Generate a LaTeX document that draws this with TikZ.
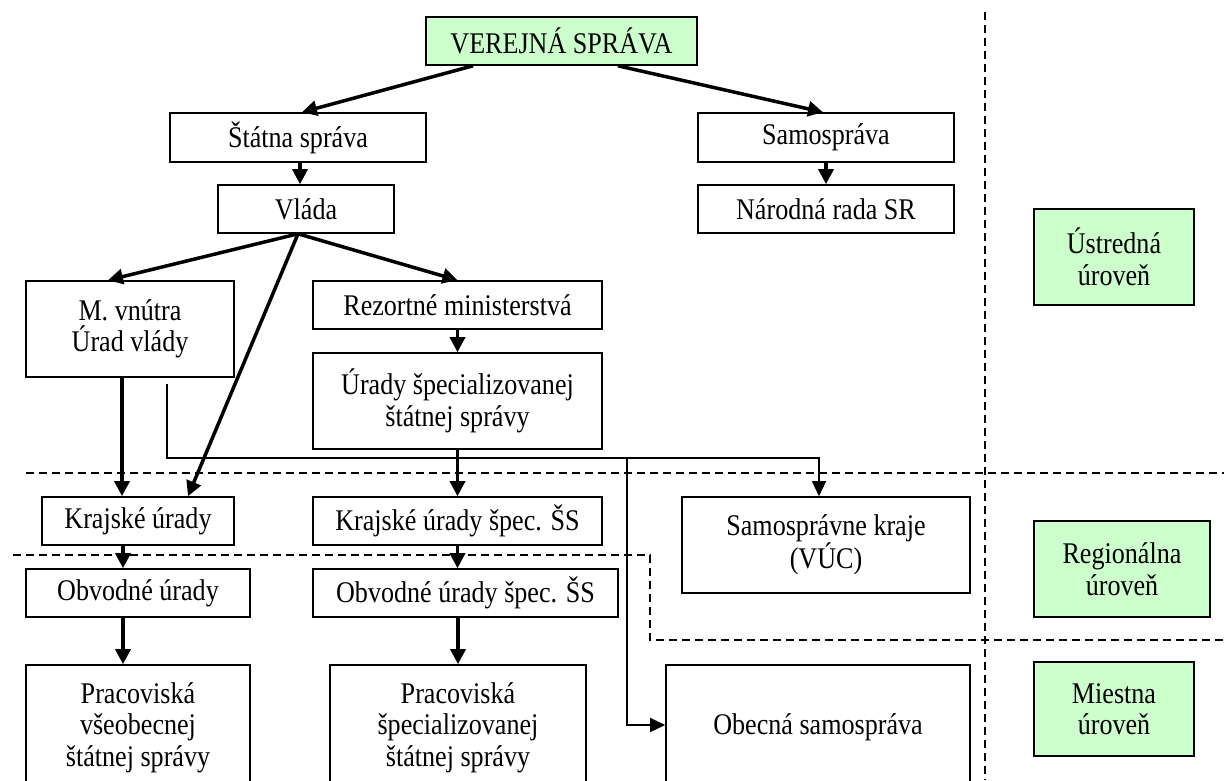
\documentclass[tikz,border=0pt]{standalone}
\usepackage{fontspec}
\setmainfont{Liberation Serif}
\newfontfamily\tallserif[FakeStretch=0.87]{Liberation Serif}
\usetikzlibrary{arrows.meta}
\definecolor{lvlgreen}{HTML}{CCFFCC}
\begin{document}
\begin{tikzpicture}[x=1pt,y=-1pt,
  box/.style={draw, line width=1.6pt, inner sep=0pt, align=center,
    font=\tallserif\fontsize{30}{31.5}\selectfont},
  lvlbox/.style={box, fill=lvlgreen},
  arr/.style={line width=3.5pt, -{Triangle[length=15pt,width=15pt]}},
  thinarr/.style={line width=1.3pt, -{Triangle[length=15pt,width=14pt]}},
  thinline/.style={line width=1.3pt},
  dashline/.style={line width=1.4pt, dash pattern=on 8pt off 5pt}
]
\fill[white] (0,0) rectangle (1224,780);
\useasboundingbox (0,0) rectangle (1224,780);
\clip (0,0) rectangle (1224,780);

% dashed level separators
\draw[dashline] (985,12) -- (985,780);
\draw[dashline] (26,473) -- (1224,473);
\draw[dashline] (13,555) -- (650,555) -- (650,640) -- (1224,640);

% nodes
\node[lvlbox, minimum width=271, minimum height=48] (ver) at (561.5,41) {VEREJNÁ SPRÁVA};
\node[box, minimum width=256, minimum height=49] (stat) at (298,137.5) {Štátna správa};
\node[box, minimum width=256, minimum height=49] (samo) at (826,137.5) {Samospráva};
\node[box, minimum width=176, minimum height=48] (vlada) at (306,209) {Vláda};
\node[box, minimum width=256, minimum height=48] (narod) at (826,209) {Národná rada SR};
\node[box, minimum width=208, minimum height=96] (mvn) at (130,329) {M. vnútra\\Úrad vlády};
\node[box, minimum width=289, minimum height=48] (rez) at (457.5,305) {Rezortné ministerstvá};
\node[box, minimum width=289, minimum height=96] (urspec) at (457.5,401) {Úrady špecializovanej\\štátnej správy};
\node[box, minimum width=192, minimum height=48] (kraj) at (138,521) {Krajské úrady};
\node[box, minimum width=289, minimum height=48] (krajspec) at (457.5,521) {Krajské úrady špec. ŠS};
\node[box, minimum width=288, minimum height=96] (samkraj) at (826,545) {Samosprávne kraje\\(VÚC)};
\node[box, minimum width=224, minimum height=48] (obv) at (138,593) {Obvodné úrady};
\node[box, minimum width=305, minimum height=48] (obvspec) at (465.5,593) {Obvodné úrady špec. ŠS};
\node[box, minimum width=224, minimum height=125] (prac1) at (138,727.5) {Pracoviská\\všeobecnej\\štátnej správy};
\node[box, minimum width=256, minimum height=125] (prac2) at (458,727.5) {Pracoviská\\špecializovanej\\štátnej správy};
\node[box, minimum width=304, minimum height=125] (obec) at (818,727.5) {Obecná samospráva};
\node[lvlbox, minimum width=160, minimum height=96] (ustr) at (1114,257) {Ústredná\\úroveň};
\node[lvlbox, minimum width=176, minimum height=96] (regio) at (1122,569) {Regionálna\\úroveň};
\node[lvlbox, minimum width=160, minimum height=94] (miest) at (1114,709) {Miestna\\úroveň};

% thick connectors
\draw[arr] ([xshift=-88.5]ver.south) -- ([xshift=4]stat.north);
\draw[arr] ([xshift=56.5]ver.south) -- ([xshift=-3]samo.north);
\draw[arr] ([xshift=2]stat.south) -- ([xshift=2]stat.south |- vlada.north);
\draw[arr] (samo.south) -- (narod.north);
\draw[arr] ([xshift=-8]vlada.south) -- ([xshift=-22]mvn.north);
\draw[arr] ([xshift=-8]vlada.south) -- (rez.north);
\draw[arr] ([xshift=-8]vlada.south) -- ([xshift=50]kraj.north);
\draw[arr] ([xshift=-8]mvn.south) -- ([xshift=-8]mvn.south |- kraj.north);
\draw[arr] (rez.south) -- (urspec.north);
\draw[arr] (urspec.south) -- (krajspec.north);
\draw[arr] ([xshift=-15]kraj.south) -- ([xshift=-15]kraj.south |- obv.north);
\draw[arr] (krajspec.south) -- (krajspec.south |- obvspec.north);
\draw[arr] ([xshift=-15]obv.south) -- ([xshift=-15]obv.south |- prac1.north);
\draw[arr] (obvspec.south -| prac2.north) -- (prac2.north);

% thin connectors to self-government
\coordinate (t0) at ([shift={(37,6)}]mvn.south);
\coordinate (hl) at (0,458);
\coordinate (junc) at (627,458);
\draw[thinline] (t0) |- (junc);
\draw[thinarr] (junc) -- ([xshift=-7]samkraj.north |- hl) -- ([xshift=-7]samkraj.north);
\draw[thinarr] (junc) |- ([yshift=2.5pt]obec.west);
\end{tikzpicture}
\end{document}
